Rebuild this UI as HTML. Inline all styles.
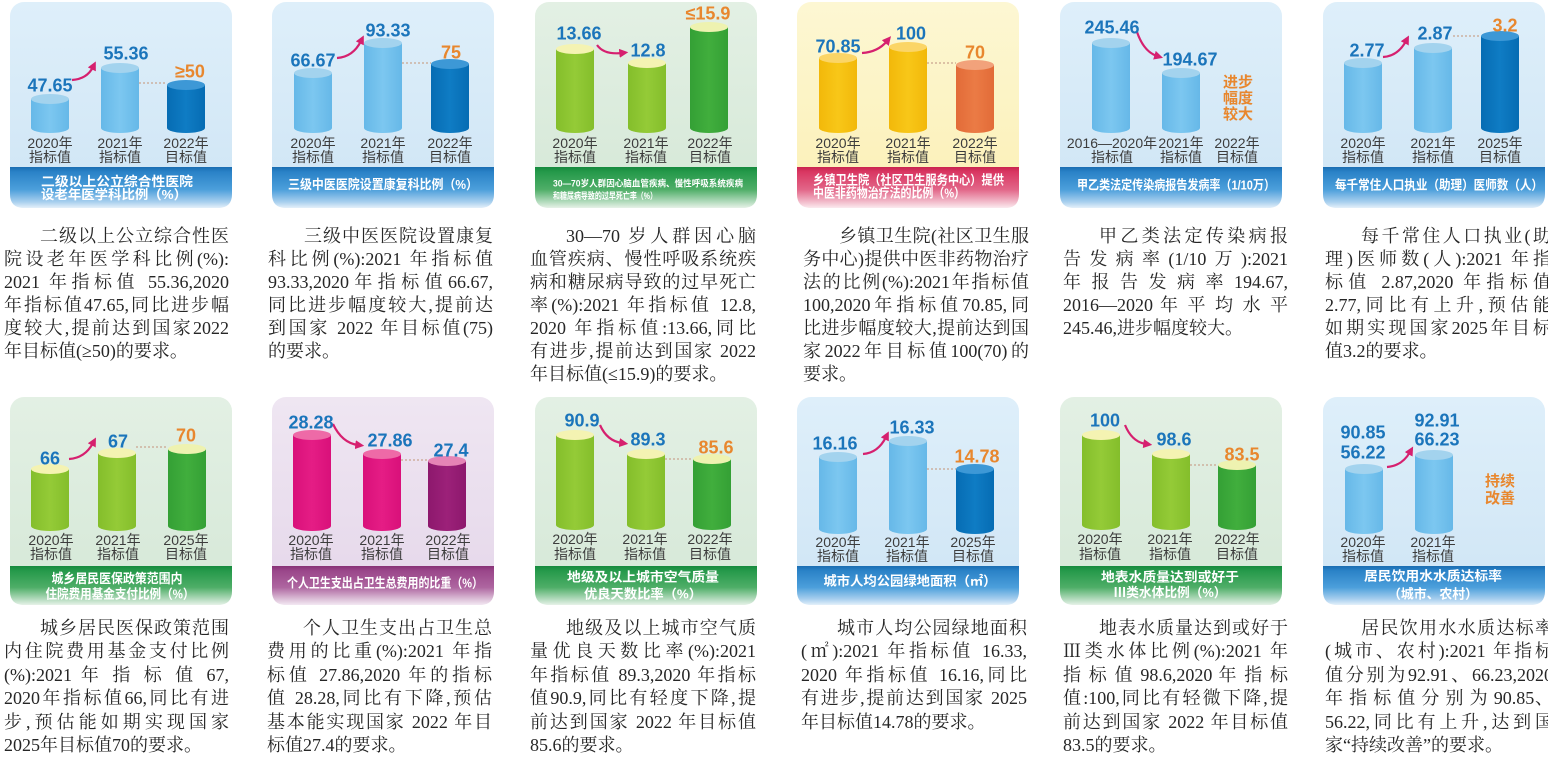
<!DOCTYPE html>
<html><head><meta charset="utf-8">
<style>
html,body{margin:0;padding:0;background:#fff;}
body{width:1548px;height:762px;position:relative;overflow:hidden;}
svg{position:absolute;left:0;top:0;}
.v{font:bold 18px "Liberation Sans",sans-serif;fill:#1b75bb;text-anchor:middle;}
.o{fill:#e8872e;}
.y{font:14px "Liberation Sans","Noto Sans CJK SC",sans-serif;fill:#3c3c3c;text-anchor:middle;}
.b{font:bold 13px "Liberation Sans","Noto Sans CJK SC",sans-serif;fill:#fff;}
.bs{font:bold 9px "Liberation Sans","Noto Sans CJK SC",sans-serif;fill:#fff;}
.bc{text-anchor:middle;}
.oc{font:bold 15px "Liberation Sans","Noto Sans CJK SC",sans-serif;fill:#e8872e;text-anchor:middle;}
.arr{fill:none;stroke:#d6206f;stroke-width:2.2;marker-end:url(#ah);}
.dash{stroke:#c9a58f;stroke-width:1.2;stroke-dasharray:2 2;}
.p{position:absolute;font-family:"Liberation Serif","Noto Serif CJK SC",serif;font-size:18px;color:#262626;}
.r1 div{height:23px;line-height:23px;}
.r2 div{height:23.4px;line-height:23.4px;}
.p div{text-align:justify;text-align-last:justify;white-space:nowrap;}
.p div.i{text-indent:36px;}
.p div.l{text-align:left;text-align-last:left;}
</style></head>
<body>
<svg width="1548" height="762" viewBox="0 0 1548 762">
<defs>
<linearGradient id="bgB" x1="0" y1="0" x2="0" y2="1"><stop offset="0" stop-color="#deeffa"/><stop offset="1" stop-color="#cfe5f5"/></linearGradient>
<linearGradient id="bgG" x1="0" y1="0" x2="0" y2="1"><stop offset="0" stop-color="#e3f0e4"/><stop offset="1" stop-color="#d5e8d7"/></linearGradient>
<linearGradient id="bgY" x1="0" y1="0" x2="0" y2="1"><stop offset="0" stop-color="#fdf7d3"/><stop offset="1" stop-color="#fbf0b6"/></linearGradient>
<linearGradient id="bgP" x1="0" y1="0" x2="0" y2="1"><stop offset="0" stop-color="#efe6f2"/><stop offset="1" stop-color="#e5d7ea"/></linearGradient>
<linearGradient id="bnB" x1="0" y1="0" x2="0" y2="1"><stop offset="0" stop-color="#1a6db2"/><stop offset="0.12" stop-color="#2a82c7"/><stop offset="0.55" stop-color="#4c9fdb"/><stop offset="0.85" stop-color="#a8cfee"/><stop offset="1" stop-color="#e4f0fa"/></linearGradient>
<linearGradient id="bnG" x1="0" y1="0" x2="0" y2="1"><stop offset="0" stop-color="#168a3e"/><stop offset="0.12" stop-color="#25994a"/><stop offset="0.55" stop-color="#4fae68"/><stop offset="0.85" stop-color="#b3dbbd"/><stop offset="1" stop-color="#e6f2e8"/></linearGradient>
<linearGradient id="bnR" x1="0" y1="0" x2="0" y2="1"><stop offset="0" stop-color="#c9244f"/><stop offset="0.12" stop-color="#d93762"/><stop offset="0.55" stop-color="#e26688"/><stop offset="0.85" stop-color="#f2bccb"/><stop offset="1" stop-color="#fbeaef"/></linearGradient>
<linearGradient id="bnP" x1="0" y1="0" x2="0" y2="1"><stop offset="0" stop-color="#873176"/><stop offset="0.12" stop-color="#9a468a"/><stop offset="0.55" stop-color="#ae66a0"/><stop offset="0.85" stop-color="#dcc0d8"/><stop offset="1" stop-color="#f3e8f2"/></linearGradient>
<linearGradient id="gLB" x1="0" y1="0" x2="1" y2="0"><stop offset="0" stop-color="#66b8e8"/><stop offset="0.5" stop-color="#7cc7f0"/><stop offset="1" stop-color="#66b8e8"/></linearGradient>
<linearGradient id="gDB" x1="0" y1="0" x2="1" y2="0"><stop offset="0" stop-color="#066cb3"/><stop offset="0.5" stop-color="#0f7cc4"/><stop offset="1" stop-color="#066cb3"/></linearGradient>
<linearGradient id="gYG" x1="0" y1="0" x2="1" y2="0"><stop offset="0" stop-color="#84be2b"/><stop offset="0.5" stop-color="#94cb37"/><stop offset="1" stop-color="#84be2b"/></linearGradient>
<linearGradient id="gDG" x1="0" y1="0" x2="1" y2="0"><stop offset="0" stop-color="#34a035"/><stop offset="0.5" stop-color="#41ae3d"/><stop offset="1" stop-color="#34a035"/></linearGradient>
<linearGradient id="gY" x1="0" y1="0" x2="1" y2="0"><stop offset="0" stop-color="#f2b80a"/><stop offset="0.5" stop-color="#f8c718"/><stop offset="1" stop-color="#f2b80a"/></linearGradient>
<linearGradient id="gO" x1="0" y1="0" x2="1" y2="0"><stop offset="0" stop-color="#e26b38"/><stop offset="0.5" stop-color="#eb7b45"/><stop offset="1" stop-color="#e26b38"/></linearGradient>
<linearGradient id="gP" x1="0" y1="0" x2="1" y2="0"><stop offset="0" stop-color="#d9107a"/><stop offset="0.5" stop-color="#e51d85"/><stop offset="1" stop-color="#d9107a"/></linearGradient>
<linearGradient id="gPU" x1="0" y1="0" x2="1" y2="0"><stop offset="0" stop-color="#8d186d"/><stop offset="0.5" stop-color="#9c2179"/><stop offset="1" stop-color="#8d186d"/></linearGradient>
<marker id="ah" markerUnits="userSpaceOnUse" markerWidth="9" markerHeight="9" viewBox="0 0 10 10" refX="3" refY="5" orient="auto"><path d="M0,0 L10,5 L0,10 z" fill="#d6206f"/></marker>
</defs>

<!-- ============ CARD 1 ============ -->
<rect x="10" y="2" width="222" height="206" rx="14" fill="url(#bgB)"/>
<path d="M10 167 H232 V194 Q232 208 218 208 H24 Q10 208 10 194 Z" fill="url(#bnB)"/>
<rect x="31" y="99" width="38" height="29" fill="url(#gLB)"/><ellipse cx="50" cy="128" rx="19" ry="5" fill="url(#gLB)"/><ellipse cx="50" cy="99" rx="19" ry="5" fill="#a3d3ee"/>
<rect x="101" y="68" width="38" height="60" fill="url(#gLB)"/><ellipse cx="120" cy="128" rx="19" ry="5" fill="url(#gLB)"/><ellipse cx="120" cy="68" rx="19" ry="5" fill="#a3d3ee"/>
<rect x="167" y="85" width="38" height="43" fill="url(#gDB)"/><ellipse cx="186" cy="128" rx="19" ry="5" fill="url(#gDB)"/><ellipse cx="186" cy="85" rx="19" ry="5" fill="#3d98d6"/>
<line class="dash" x1="139" y1="83" x2="167" y2="83"/>
<path class="arr" d="M72 80 Q87 79 93 67"/>
<text class="v" x="50" y="91.5">47.65</text>
<text class="v" x="126" y="59.5">55.36</text>
<text class="v o" x="190" y="77.5">≥50</text>
<text class="y" x="50" y="148">2020年</text><text class="y" x="50" y="162">指标值</text>
<text class="y" x="120" y="148">2021年</text><text class="y" x="120" y="162">指标值</text>
<text class="y" x="186" y="148">2022年</text><text class="y" x="186" y="162">目标值</text>
<text class="b" x="41" y="186" textLength="152" lengthAdjust="spacingAndGlyphs">二级以上公立综合性医院</text>
<text class="b" x="41" y="199" textLength="146" lengthAdjust="spacingAndGlyphs">设老年医学科比例（%）</text>

<!-- ============ CARD 2 ============ -->
<rect x="272" y="2" width="222" height="206" rx="14" fill="url(#bgB)"/>
<path d="M272 167 H494 V194 Q494 208 480 208 H286 Q272 208 272 194 Z" fill="url(#bnB)"/>
<rect x="294" y="73" width="38" height="55" fill="url(#gLB)"/><ellipse cx="313" cy="128" rx="19" ry="5" fill="url(#gLB)"/><ellipse cx="313" cy="73" rx="19" ry="5" fill="#a3d3ee"/>
<rect x="364" y="43" width="38" height="85" fill="url(#gLB)"/><ellipse cx="383" cy="128" rx="19" ry="5" fill="url(#gLB)"/><ellipse cx="383" cy="43" rx="19" ry="5" fill="#a3d3ee"/>
<rect x="431" y="64" width="38" height="64" fill="url(#gDB)"/><ellipse cx="450" cy="128" rx="19" ry="5" fill="url(#gDB)"/><ellipse cx="450" cy="64" rx="19" ry="5" fill="#3d98d6"/>
<line class="dash" x1="402" y1="63" x2="431" y2="63"/>
<path class="arr" d="M337 58 Q353 57 361 41"/>
<text class="v" x="313" y="66.5">66.67</text>
<text class="v" x="388" y="36.5">93.33</text>
<text class="v o" x="451" y="58.5">75</text>
<text class="y" x="313" y="148">2020年</text><text class="y" x="313" y="162">指标值</text>
<text class="y" x="383" y="148">2021年</text><text class="y" x="383" y="162">指标值</text>
<text class="y" x="450" y="148">2022年</text><text class="y" x="450" y="162">目标值</text>
<text class="b bc" x="383" y="189" textLength="190" lengthAdjust="spacingAndGlyphs">三级中医医院设置康复科比例（%）</text>

<!-- ============ CARD 3 ============ -->
<rect x="535" y="2" width="222" height="206" rx="14" fill="url(#bgG)"/>
<path d="M535 167 H757 V194 Q757 208 743 208 H549 Q535 208 535 194 Z" fill="url(#bnG)"/>
<rect x="556" y="49" width="38" height="79" fill="url(#gYG)"/><ellipse cx="575" cy="128" rx="19" ry="5" fill="url(#gYG)"/><ellipse cx="575" cy="49" rx="19" ry="5" fill="#f4f3b2"/>
<rect x="628" y="63" width="38" height="65" fill="url(#gYG)"/><ellipse cx="647" cy="128" rx="19" ry="5" fill="url(#gYG)"/><ellipse cx="647" cy="63" rx="19" ry="5" fill="#f4f3b2"/>
<rect x="690" y="27" width="38" height="101" fill="url(#gDG)"/><ellipse cx="709" cy="128" rx="19" ry="5" fill="url(#gDG)"/><ellipse cx="709" cy="27" rx="19" ry="5" fill="#eef2b0"/>
<path class="arr" d="M597 45 Q604 55 622 53"/>
<text class="v" x="579" y="39.5">13.66</text>
<text class="v" x="648" y="56.5">12.8</text>
<text class="v o" x="708" y="19.5">≤15.9</text>
<text class="y" x="575" y="148">2020年</text><text class="y" x="575" y="162">指标值</text>
<text class="y" x="646" y="148">2021年</text><text class="y" x="646" y="162">指标值</text>
<text class="y" x="710" y="148">2022年</text><text class="y" x="710" y="162">目标值</text>
<text class="bs" x="553" y="186.5" textLength="190" lengthAdjust="spacingAndGlyphs">30—70岁人群因心脑血管疾病、慢性呼吸系统疾病</text>
<text class="bs" x="553" y="199" textLength="104" lengthAdjust="spacingAndGlyphs">和糖尿病导致的过早死亡率（%）</text>

<!-- ============ CARD 4 ============ -->
<rect x="797" y="2" width="222" height="206" rx="14" fill="url(#bgY)"/>
<path d="M797 167 H1019 V194 Q1019 208 1005 208 H811 Q797 208 797 194 Z" fill="url(#bnR)"/>
<rect x="819" y="58" width="38" height="70" fill="url(#gY)"/><ellipse cx="838" cy="128" rx="19" ry="5" fill="url(#gY)"/><ellipse cx="838" cy="58" rx="19" ry="5" fill="#fbd567"/>
<rect x="889" y="47" width="38" height="81" fill="url(#gY)"/><ellipse cx="908" cy="128" rx="19" ry="5" fill="url(#gY)"/><ellipse cx="908" cy="47" rx="19" ry="5" fill="#fbd567"/>
<rect x="956" y="65" width="38" height="63" fill="url(#gO)"/><ellipse cx="975" cy="128" rx="19" ry="5" fill="url(#gO)"/><ellipse cx="975" cy="65" rx="19" ry="5" fill="#f2a27b"/>
<line class="dash" x1="927" y1="63" x2="956" y2="63"/>
<path class="arr" d="M862 53 Q878 52 887 41"/>
<text class="v" x="838" y="52.5">70.85</text>
<text class="v" x="911" y="39.5">100</text>
<text class="v o" x="975" y="58.5">70</text>
<text class="y" x="838" y="148">2020年</text><text class="y" x="838" y="162">指标值</text>
<text class="y" x="908" y="148">2021年</text><text class="y" x="908" y="162">指标值</text>
<text class="y" x="975" y="148">2022年</text><text class="y" x="975" y="162">目标值</text>
<text class="b" x="813" y="184.5" textLength="191" lengthAdjust="spacingAndGlyphs">乡镇卫生院（社区卫生服务中心）提供</text>
<text class="b" x="813" y="197.5" textLength="152" lengthAdjust="spacingAndGlyphs">中医非药物治疗法的比例（%）</text>

<!-- ============ CARD 5 ============ -->
<rect x="1060" y="2" width="222" height="206" rx="14" fill="url(#bgB)"/>
<path d="M1060 167 H1282 V194 Q1282 208 1268 208 H1074 Q1060 208 1060 194 Z" fill="url(#bnB)"/>
<rect x="1092" y="43" width="38" height="85" fill="url(#gLB)"/><ellipse cx="1111" cy="128" rx="19" ry="5" fill="url(#gLB)"/><ellipse cx="1111" cy="43" rx="19" ry="5" fill="#a3d3ee"/>
<rect x="1162" y="73" width="38" height="55" fill="url(#gLB)"/><ellipse cx="1181" cy="128" rx="19" ry="5" fill="url(#gLB)"/><ellipse cx="1181" cy="73" rx="19" ry="5" fill="#a3d3ee"/>
<path class="arr" d="M1137 32 Q1144 52 1157 56"/>
<text class="v" x="1112" y="33.5">245.46</text>
<text class="v" x="1190" y="65.5">194.67</text>
<text class="oc" x="1238" y="87">进步</text>
<text class="oc" x="1238" y="103">幅度</text>
<text class="oc" x="1238" y="119">较大</text>
<text class="y" x="1112" y="148">2016—2020年</text><text class="y" x="1112" y="162">指标值</text>
<text class="y" x="1181" y="148">2021年</text><text class="y" x="1181" y="162">指标值</text>
<text class="y" x="1237" y="148">2022年</text><text class="y" x="1237" y="162">目标值</text>
<text class="b" x="1077" y="189.5" textLength="198" lengthAdjust="spacingAndGlyphs">甲乙类法定传染病报告发病率（1/10万）</text>

<!-- ============ CARD 6 ============ -->
<rect x="1323" y="2" width="222" height="206" rx="14" fill="url(#bgB)"/>
<path d="M1323 167 H1545 V194 Q1545 208 1531 208 H1337 Q1323 208 1323 194 Z" fill="url(#bnB)"/>
<rect x="1344" y="63" width="38" height="65" fill="url(#gLB)"/><ellipse cx="1363" cy="128" rx="19" ry="5" fill="url(#gLB)"/><ellipse cx="1363" cy="63" rx="19" ry="5" fill="#a3d3ee"/>
<rect x="1414" y="48" width="38" height="80" fill="url(#gLB)"/><ellipse cx="1433" cy="128" rx="19" ry="5" fill="url(#gLB)"/><ellipse cx="1433" cy="48" rx="19" ry="5" fill="#a3d3ee"/>
<rect x="1481" y="36" width="38" height="92" fill="url(#gDB)"/><ellipse cx="1500" cy="128" rx="19" ry="5" fill="url(#gDB)"/><ellipse cx="1500" cy="36" rx="19" ry="5" fill="#3d98d6"/>
<line class="dash" x1="1453" y1="36" x2="1481" y2="36"/>
<path class="arr" d="M1383 57 Q1398 56 1406 41"/>
<text class="v" x="1367" y="56.5">2.77</text>
<text class="v" x="1435" y="39.5">2.87</text>
<text class="v o" x="1505" y="31.5">3.2</text>
<text class="y" x="1363" y="148">2020年</text><text class="y" x="1363" y="162">指标值</text>
<text class="y" x="1433" y="148">2021年</text><text class="y" x="1433" y="162">指标值</text>
<text class="y" x="1500" y="148">2025年</text><text class="y" x="1500" y="162">目标值</text>
<text class="b" x="1335" y="189.5" textLength="208" lengthAdjust="spacingAndGlyphs">每千常住人口执业（助理）医师数（人）</text>

<!-- ============ CARD 7 ============ -->
<rect x="10" y="397" width="222" height="208" rx="14" fill="url(#bgG)"/>
<path d="M10 566 H232 V591 Q232 605 218 605 H24 Q10 605 10 591 Z" fill="url(#bnG)"/>
<rect x="31" y="469" width="38" height="57" fill="url(#gYG)"/><ellipse cx="50" cy="526" rx="19" ry="5" fill="url(#gYG)"/><ellipse cx="50" cy="469" rx="19" ry="5" fill="#f4f3b2"/>
<rect x="98" y="453" width="38" height="73" fill="url(#gYG)"/><ellipse cx="117" cy="526" rx="19" ry="5" fill="url(#gYG)"/><ellipse cx="117" cy="453" rx="19" ry="5" fill="#f4f3b2"/>
<rect x="168" y="449" width="38" height="77" fill="url(#gDG)"/><ellipse cx="187" cy="526" rx="19" ry="5" fill="url(#gDG)"/><ellipse cx="187" cy="449" rx="19" ry="5" fill="#eef2b0"/>
<line class="dash" x1="136" y1="447" x2="168" y2="447"/>
<path class="arr" d="M69 459 Q85 458 93 443"/>
<text class="v" x="50" y="464.5">66</text>
<text class="v" x="118" y="447.5">67</text>
<text class="v o" x="186" y="441.5">70</text>
<text class="y" x="51" y="545">2020年</text><text class="y" x="51" y="559">指标值</text>
<text class="y" x="118" y="545">2021年</text><text class="y" x="118" y="559">指标值</text>
<text class="y" x="186" y="545">2025年</text><text class="y" x="186" y="559">目标值</text>
<text class="b bc" x="117" y="583" textLength="131" lengthAdjust="spacingAndGlyphs">城乡居民医保政策范围内</text>
<text class="b bc" x="120" y="598.5" textLength="149" lengthAdjust="spacingAndGlyphs">住院费用基金支付比例（%）</text>

<!-- ============ CARD 8 ============ -->
<rect x="272" y="397" width="222" height="208" rx="14" fill="url(#bgP)"/>
<path d="M272 566 H494 V591 Q494 605 480 605 H286 Q272 605 272 591 Z" fill="url(#bnP)"/>
<rect x="293" y="435" width="38" height="91" fill="url(#gP)"/><ellipse cx="312" cy="526" rx="19" ry="5" fill="url(#gP)"/><ellipse cx="312" cy="435" rx="19" ry="5" fill="#ee6aa7"/>
<rect x="363" y="454" width="38" height="72" fill="url(#gP)"/><ellipse cx="382" cy="526" rx="19" ry="5" fill="url(#gP)"/><ellipse cx="382" cy="454" rx="19" ry="5" fill="#ee6aa7"/>
<rect x="428" y="461" width="38" height="65" fill="url(#gPU)"/><ellipse cx="447" cy="526" rx="19" ry="5" fill="url(#gPU)"/><ellipse cx="447" cy="461" rx="19" ry="5" fill="#e584b6"/>
<line class="dash" x1="401" y1="460" x2="428" y2="460"/>
<path class="arr" d="M333 424 Q342 443 358 445"/>
<text class="v" x="311" y="428.5">28.28</text>
<text class="v" x="390" y="446.5">27.86</text>
<text class="v" x="451" y="456.5">27.4</text>
<text class="y" x="311" y="545">2020年</text><text class="y" x="311" y="559">指标值</text>
<text class="y" x="382" y="545">2021年</text><text class="y" x="382" y="559">指标值</text>
<text class="y" x="448" y="545">2022年</text><text class="y" x="448" y="559">目标值</text>
<text class="b bc" x="385" y="587.5" textLength="196" lengthAdjust="spacingAndGlyphs">个人卫生支出占卫生总费用的比重（%）</text>

<!-- ============ CARD 9 ============ -->
<rect x="535" y="397" width="222" height="208" rx="14" fill="url(#bgG)"/>
<path d="M535 566 H757 V591 Q757 605 743 605 H549 Q535 605 535 591 Z" fill="url(#bnG)"/>
<rect x="556" y="435" width="38" height="90" fill="url(#gYG)"/><ellipse cx="575" cy="525" rx="19" ry="5" fill="url(#gYG)"/><ellipse cx="575" cy="435" rx="19" ry="5" fill="#f4f3b2"/>
<rect x="627" y="454" width="38" height="71" fill="url(#gYG)"/><ellipse cx="646" cy="525" rx="19" ry="5" fill="url(#gYG)"/><ellipse cx="646" cy="454" rx="19" ry="5" fill="#f4f3b2"/>
<rect x="693" y="459" width="38" height="66" fill="url(#gDG)"/><ellipse cx="712" cy="525" rx="19" ry="5" fill="url(#gDG)"/><ellipse cx="712" cy="459" rx="19" ry="5" fill="#eef2b0"/>
<line class="dash" x1="665" y1="459" x2="693" y2="459"/>
<path class="arr" d="M600 425 Q607 441 622 443"/>
<text class="v" x="582" y="426.5">90.9</text>
<text class="v" x="648" y="445.5">89.3</text>
<text class="v o" x="716" y="453.5">85.6</text>
<text class="y" x="575" y="544">2020年</text><text class="y" x="575" y="559">指标值</text>
<text class="y" x="645" y="544">2021年</text><text class="y" x="645" y="559">指标值</text>
<text class="y" x="710" y="544">2022年</text><text class="y" x="710" y="559">目标值</text>
<text class="b bc" x="643" y="581.5" textLength="152" lengthAdjust="spacingAndGlyphs">地级及以上城市空气质量</text>
<text class="b bc" x="643" y="598.5" textLength="118" lengthAdjust="spacingAndGlyphs">优良天数比率（%）</text>

<!-- ============ CARD 10 ============ -->
<rect x="797" y="397" width="222" height="208" rx="14" fill="url(#bgB)"/>
<path d="M797 566 H1019 V591 Q1019 605 1005 605 H811 Q797 605 797 591 Z" fill="url(#bnB)"/>
<rect x="819" y="457" width="38" height="72" fill="url(#gLB)"/><ellipse cx="838" cy="529" rx="19" ry="5" fill="url(#gLB)"/><ellipse cx="838" cy="457" rx="19" ry="5" fill="#a3d3ee"/>
<rect x="889" y="441" width="38" height="88" fill="url(#gLB)"/><ellipse cx="908" cy="529" rx="19" ry="5" fill="url(#gLB)"/><ellipse cx="908" cy="441" rx="19" ry="5" fill="#a3d3ee"/>
<rect x="956" y="469" width="38" height="60" fill="url(#gDB)"/><ellipse cx="975" cy="529" rx="19" ry="5" fill="url(#gDB)"/><ellipse cx="975" cy="469" rx="19" ry="5" fill="#3d98d6"/>
<line class="dash" x1="927" y1="469" x2="956" y2="469"/>
<path class="arr" d="M863 454 Q878 453 886 437"/>
<text class="v" x="835" y="449.5">16.16</text>
<text class="v" x="912" y="433.5">16.33</text>
<text class="v o" x="977" y="462.5">14.78</text>
<text class="y" x="838" y="547">2020年</text><text class="y" x="838" y="561">指标值</text>
<text class="y" x="907" y="547">2021年</text><text class="y" x="907" y="561">指标值</text>
<text class="y" x="973" y="547">2025年</text><text class="y" x="973" y="561">目标值</text>
<text class="b bc" x="910" y="585.5" textLength="173" lengthAdjust="spacingAndGlyphs">城市人均公园绿地面积（㎡）</text>

<!-- ============ CARD 11 ============ -->
<rect x="1060" y="397" width="222" height="208" rx="14" fill="url(#bgG)"/>
<path d="M1060 566 H1282 V591 Q1282 605 1268 605 H1074 Q1060 605 1060 591 Z" fill="url(#bnG)"/>
<rect x="1082" y="435" width="38" height="90" fill="url(#gYG)"/><ellipse cx="1101" cy="525" rx="19" ry="5" fill="url(#gYG)"/><ellipse cx="1101" cy="435" rx="19" ry="5" fill="#f4f3b2"/>
<rect x="1152" y="454" width="38" height="71" fill="url(#gYG)"/><ellipse cx="1171" cy="525" rx="19" ry="5" fill="url(#gYG)"/><ellipse cx="1171" cy="454" rx="19" ry="5" fill="#f4f3b2"/>
<rect x="1218" y="465" width="38" height="60" fill="url(#gDG)"/><ellipse cx="1237" cy="525" rx="19" ry="5" fill="url(#gDG)"/><ellipse cx="1237" cy="465" rx="19" ry="5" fill="#eef2b0"/>
<line class="dash" x1="1190" y1="465" x2="1218" y2="465"/>
<path class="arr" d="M1125 425 Q1132 442 1146 444"/>
<text class="v" x="1105" y="426.5">100</text>
<text class="v" x="1174" y="445.5">98.6</text>
<text class="v o" x="1242" y="460.5">83.5</text>
<text class="y" x="1100" y="544">2020年</text><text class="y" x="1100" y="559">指标值</text>
<text class="y" x="1170" y="544">2021年</text><text class="y" x="1170" y="559">指标值</text>
<text class="y" x="1237" y="544">2022年</text><text class="y" x="1237" y="559">目标值</text>
<text class="b bc" x="1170" y="581.5" textLength="138" lengthAdjust="spacingAndGlyphs">地表水质量达到或好于</text>
<text class="b bc" x="1170" y="597" textLength="113" lengthAdjust="spacingAndGlyphs">Ⅲ类水体比例（%）</text>

<!-- ============ CARD 12 ============ -->
<rect x="1323" y="397" width="222" height="208" rx="14" fill="url(#bgB)"/>
<path d="M1323 566 H1545 V591 Q1545 605 1531 605 H1337 Q1323 605 1323 591 Z" fill="url(#bnB)"/>
<rect x="1345" y="469" width="38" height="60" fill="url(#gLB)"/><ellipse cx="1364" cy="529" rx="19" ry="5" fill="url(#gLB)"/><ellipse cx="1364" cy="469" rx="19" ry="5" fill="#a3d3ee"/>
<rect x="1415" y="455" width="38" height="74" fill="url(#gLB)"/><ellipse cx="1434" cy="529" rx="19" ry="5" fill="url(#gLB)"/><ellipse cx="1434" cy="455" rx="19" ry="5" fill="#a3d3ee"/>
<path class="arr" d="M1387 467 Q1402 466 1410 452"/>
<text class="v" x="1363" y="438.5">90.85</text>
<text class="v" x="1363" y="458.5">56.22</text>
<text class="v" x="1437" y="426.5">92.91</text>
<text class="v" x="1437" y="445.5">66.23</text>
<text class="oc" x="1500" y="486">持续</text>
<text class="oc" x="1500" y="503">改善</text>
<text class="y" x="1363" y="547">2020年</text><text class="y" x="1363" y="561">指标值</text>
<text class="y" x="1433" y="547">2021年</text><text class="y" x="1433" y="561">指标值</text>
<text class="b bc" x="1433" y="580.5" textLength="138" lengthAdjust="spacingAndGlyphs">居民饮用水水质达标率</text>
<text class="b bc" x="1433" y="598.5" textLength="90" lengthAdjust="spacingAndGlyphs">（城市、农村）</text>
</svg>

<!-- ============ ROW 1 TEXT ============ -->
<div class="p r1" style="left:4px;top:225px;width:225px">
<div class="i">二级以上公立综合性医</div>
<div>院设老年医学科比例(%):</div>
<div>2021 年指标值 55.36,2020</div>
<div>年指标值47.65,同比进步幅</div>
<div>度较大,提前达到国家2022</div>
<div class="l">年目标值(≥50)的要求。</div>
</div>
<div class="p r1" style="left:268px;top:225px;width:225px">
<div class="i">三级中医医院设置康复</div>
<div>科比例(%):2021 年指标值</div>
<div>93.33,2020年指标值66.67,</div>
<div>同比进步幅度较大,提前达</div>
<div>到国家 2022 年目标值(75)</div>
<div class="l">的要求。</div>
</div>
<div class="p r1" style="left:530px;top:225px;width:226px">
<div class="i">30—70 岁人群因心脑</div>
<div>血管疾病、慢性呼吸系统疾</div>
<div>病和糖尿病导致的过早死亡</div>
<div>率(%):2021 年指标值 12.8,</div>
<div>2020 年指标值:13.66,同比</div>
<div>有进步,提前达到国家 2022</div>
<div class="l">年目标值(≤15.9)的要求。</div>
</div>
<div class="p r1" style="left:803px;top:225px;width:226px">
<div class="i">乡镇卫生院(社区卫生服</div>
<div>务中心)提供中医非药物治疗</div>
<div>法的比例(%):2021年指标值</div>
<div>100,2020年指标值70.85,同</div>
<div>比进步幅度较大,提前达到国</div>
<div>家2022年目标值100(70)的</div>
<div class="l">要求。</div>
</div>
<div class="p r1" style="left:1063px;top:225px;width:225px">
<div class="i">甲乙类法定传染病报</div>
<div>告发病率(1/10万):2021</div>
<div>年 报 告 发 病 率 194.67,</div>
<div>2016—2020 年 平 均 水 平</div>
<div class="l">245.46,进步幅度较大。</div>
</div>
<div class="p r1" style="left:1325px;top:225px;width:226px">
<div class="i">每千常住人口执业(助</div>
<div>理)医师数(人):2021 年指</div>
<div>标值 2.87,2020 年指标值</div>
<div>2.77,同比有上升,预估能</div>
<div>如期实现国家2025年目标</div>
<div class="l">值3.2的要求。</div>
</div>

<!-- ============ ROW 2 TEXT ============ -->
<div class="p r2" style="left:4px;top:617px;width:225px">
<div class="i">城乡居民医保政策范围</div>
<div>内住院费用基金支付比例</div>
<div>(%):2021 年 指 标 值 67,</div>
<div>2020年指标值66,同比有进</div>
<div>步,预估能如期实现国家</div>
<div class="l">2025年目标值70的要求。</div>
</div>
<div class="p r2" style="left:267px;top:617px;width:225px">
<div class="i">个人卫生支出占卫生总</div>
<div>费用的比重(%):2021 年指</div>
<div>标值 27.86,2020 年的指标</div>
<div>值 28.28,同比有下降,预估</div>
<div>基本能实现国家 2022 年目</div>
<div class="l">标值27.4的要求。</div>
</div>
<div class="p r2" style="left:530px;top:617px;width:226px">
<div class="i">地级及以上城市空气质</div>
<div>量优良天数比率(%):2021</div>
<div>年指标值 89.3,2020 年指标</div>
<div>值90.9,同比有轻度下降,提</div>
<div>前达到国家 2022 年目标值</div>
<div class="l">85.6的要求。</div>
</div>
<div class="p r2" style="left:801px;top:617px;width:226px">
<div class="i">城市人均公园绿地面积</div>
<div>(㎡):2021 年指标值 16.33,</div>
<div>2020 年指标值 16.16,同比</div>
<div>有进步,提前达到国家 2025</div>
<div class="l">年目标值14.78的要求。</div>
</div>
<div class="p r2" style="left:1063px;top:617px;width:225px">
<div class="i">地表水质量达到或好于</div>
<div>Ⅲ类水体比例(%):2021 年</div>
<div>指 标 值 98.6,2020 年 指 标</div>
<div>值:100,同比有轻微下降,提</div>
<div>前达到国家 2022 年目标值</div>
<div class="l">83.5的要求。</div>
</div>
<div class="p r2" style="left:1325px;top:617px;width:228px">
<div class="i">居民饮用水水质达标率</div>
<div>(城市、农村):2021 年指标</div>
<div>值分别为92.91、66.23,2020</div>
<div>年 指 标 值 分 别 为 90.85、</div>
<div>56.22,同比有上升,达到国</div>
<div class="l">家“持续改善”的要求。</div>
</div>
</body></html>
